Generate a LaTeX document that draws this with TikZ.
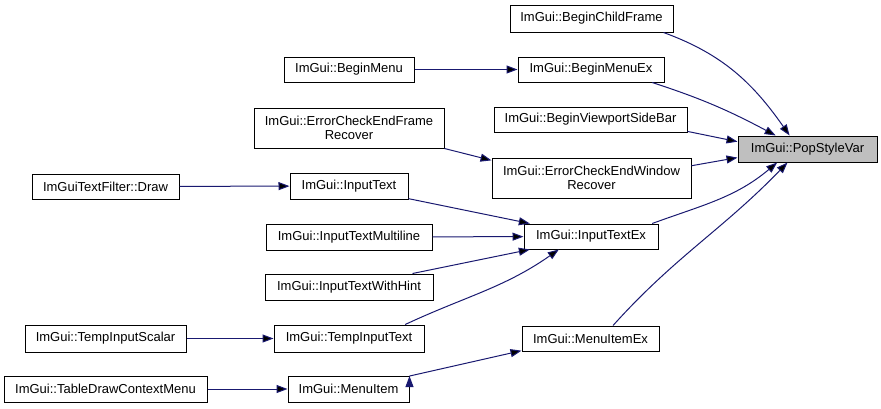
\documentclass[tikz,border=0pt]{standalone}
\usepackage{fontspec}
\setmainfont{Liberation Sans}
\usetikzlibrary{arrows.meta}
\definecolor{edgeblue}{HTML}{191970}
\definecolor{nodegray}{HTML}{BFBFBF}

\begin{document}
\begin{tikzpicture}[x=1pt,y=-1pt,
    fn/.style={draw=black,line width=1pt,fill=white,inner sep=0pt,
      align=center,font=\fontsize{13}{14.5}\selectfont},
    hl/.style={fn,fill=nodegray},
    call/.style={draw=edgeblue,line width=1pt,-{Triangle[length=11pt,width=8pt]}}]
  \useasboundingbox (0,0) rectangle (881,408);
  \node[hl,minimum width=139,minimum height=26] (pop_var) at (807.5,149) {ImGui::PopStyleVar};
  \node[fn,minimum width=163,minimum height=27] (child_frame) at (591.5,18.5) {ImGui::BeginChildFrame};
  \node[fn,minimum width=146,minimum height=25] (menu_ex) at (591,69.5) {ImGui::BeginMenuEx};
  \node[fn,minimum width=193,minimum height=25] (side_bar) at (590.5,119.5) {ImGui::BeginViewportSideBar};
  \node[fn,minimum width=199,minimum height=40] (end_window) at (591.5,178) {ImGui::ErrorCheckEndWindow\\Recover};
  \node[fn,minimum width=130,minimum height=25] (begin_menu) at (349,69.5) {ImGui::BeginMenu};
  \node[fn,minimum width=190,minimum height=40] (end_frame) at (349,128) {ImGui::ErrorCheckEndFrame\\Recover};
  \node[fn,minimum width=147,minimum height=25] (filter_draw) at (105.5,186.5) {ImGuiTextFilter::Draw};
  \node[fn,minimum width=118,minimum height=26] (input_text) at (349,186) {ImGui::InputText};
  \node[fn,minimum width=166,minimum height=26] (input_multi) at (349,237) {ImGui::InputTextMultiline};
  \node[fn,minimum width=134,minimum height=25] (input_ex) at (591,236.5) {ImGui::InputTextEx};
  \node[fn,minimum width=168,minimum height=26] (input_hint) at (349,287) {ImGui::InputTextWithHint};
  \node[fn,minimum width=161,minimum height=27] (temp_scalar) at (105.5,338.5) {ImGui::TempInputScalar};
  \node[fn,minimum width=150,minimum height=27] (temp_text) at (349,338.5) {ImGui::TempInputText};
  \node[fn,minimum width=137,minimum height=25] (item_ex) at (590.5,338.5) {ImGui::MenuItemEx};
  \node[fn,minimum width=203,minimum height=26] (context_menu) at (105.5,389) {ImGui::TableDrawContextMenu};
  \node[fn,minimum width=121,minimum height=26] (menu_item) at (348.5,389) {ImGui::MenuItem};
  \path[call]
    (child_frame.-11) edge[out=-20,in=125] (pop_var.143)
    (menu_ex.-12) edge[out=-18,in=152] (pop_var.157)
    (side_bar.-7) edge (pop_var.174)
    (end_window.7) edge (pop_var.187)
    (input_ex.12) edge[out=20,in=220] (pop_var.204)
    (item_ex.30) edge[out=48,in=226] (pop_var.214)
    (begin_menu) edge (menu_ex)
    (end_frame.south east) edge (end_window.170)
    (filter_draw) edge (input_text)
    (input_text.-12) edge (input_ex.168)
    (input_multi) edge (input_ex)
    (input_hint.12) edge (input_ex.192)
    (temp_text.14) edge[out=25,in=215] (input_ex.202)
    (temp_scalar) edge (temp_text)
    (context_menu) edge (menu_item)
    (menu_item.12) edge (item_ex.190);
\end{tikzpicture}
\end{document}
